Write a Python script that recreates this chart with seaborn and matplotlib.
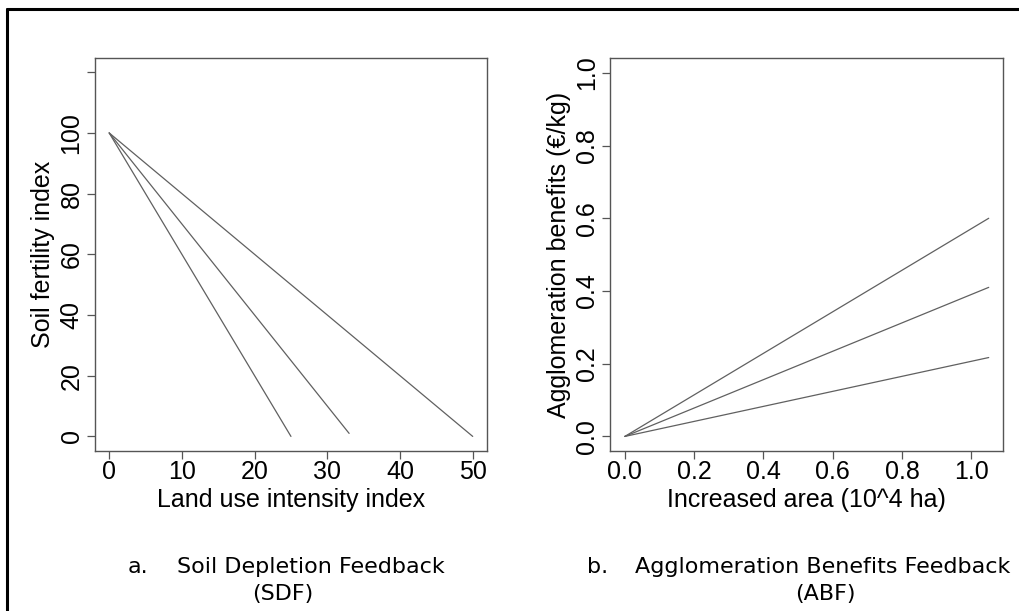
import pandas as pd
import matplotlib.pyplot as plt
import seaborn as sns
from matplotlib.lines import Line2D

# Soil depletion feedback: three lines starting at (0, 100)
sdf_intensity = [[0, 25], [0, 33], [0, 50]]
sdf_fertility = [[100, 0], [100, 1], [100, 0]]

# Agglomeration benefits feedback: three lines from the origin
abf_area = [0, 1.05]
abf_benefit = [[0, 0.60], [0, 0.41], [0, 0.217]]

sdf_yticks = [0, 20, 40, 60, 80, 100, 120]
sdf_yticklabels = ["0", "20", "40", "60", "80", "100", ""]
sdf_xticks = [0, 10, 20, 30, 40, 50]
abf_ticks = [0.0, 0.2, 0.4, 0.6, 0.8, 1.0]


def long_frame(xs, ys, xname, yname):
    rows = []
    for i, (x, y) in enumerate(zip(xs, ys)):
        for a, b in zip(x, y):
            rows.append({xname: a, yname: b, "series": i})
    return pd.DataFrame(rows)


sdf_df = long_frame(sdf_intensity, sdf_fertility, "x", "y")
abf_df = long_frame([abf_area] * 3, abf_benefit, "x", "y")

sns.set_theme(style="white")
plt.rcParams['font.family'] = ['Liberation Sans', 'DejaVu Sans']
plt.rcParams['text.color'] = 'black'
plt.rcParams['axes.labelcolor'] = 'black'

fig = plt.figure(figsize=(10.2, 6.11), dpi=100)
ax1 = fig.add_axes([0.0928, 0.2619, 0.3849, 0.6437])
ax2 = fig.add_axes([0.5983, 0.2619, 0.3853, 0.6427])

line_col = "#606060"
axis_col = "#555555"

sns.lineplot(data=sdf_df, x="x", y="y", hue="series", units="series", estimator=None,
             palette=[line_col] * 3, legend=False, linewidth=0.9, ax=ax1)
sns.lineplot(data=abf_df, x="x", y="y", hue="series", units="series", estimator=None,
             palette=[line_col] * 3, legend=False, linewidth=0.9, ax=ax2)

ax1.set_xlim(-2, 52)
ax1.set_ylim(-4.8, 124.8)
ax1.set_xticks(sdf_xticks)
ax1.set_yticks(sdf_yticks)
ax1.set_yticklabels(sdf_yticklabels)
ax1.set_xlabel("Land use intensity index", fontsize=18, labelpad=3, color="black")
ax1.set_ylabel("Soil fertility index", fontsize=18, labelpad=3, color="black")

ax2.set_xlim(-0.042, 1.092)
ax2.set_ylim(-0.04, 1.04)
ax2.set_xticks(abf_ticks)
ax2.set_xticklabels([f"{t:.1f}" for t in abf_ticks])
ax2.set_yticks(abf_ticks)
ax2.set_yticklabels([f"{t:.1f}" for t in abf_ticks])
ax2.set_xlabel("Increased area (10^4 ha)", fontsize=18, labelpad=3, color="black")
ax2.set_ylabel("Agglomeration benefits (€/kg)", fontsize=18, labelpad=3, color="black")

for ax in (ax1, ax2):
    for s in ax.spines.values():
        s.set_color(axis_col)
        s.set_linewidth(1.0)
    ax.tick_params(axis="both", which="major", direction="out", length=5.5, width=0.9,
                   color=axis_col, labelsize=18, labelcolor="black",
                   bottom=True, left=True)
    ax.tick_params(axis="x", pad=1)
    ax.tick_params(axis="y", pad=2.5)
    plt.setp(ax.get_yticklabels(), rotation=90, va="center", ha="right")
    ax.grid(False)

# captions
cap = dict(fontsize=16, family="DejaVu Sans", va="baseline", color="black")
fig.text(128 / 1020, 1 - 573 / 611, "a.", ha="left", **cap)
fig.text(177 / 1020, 1 - 573 / 611, "Soil Depletion Feedback", ha="left", **cap)
fig.text(283 / 1020, 1 - 600 / 611, "(SDF)", ha="center", **cap)
fig.text(587 / 1020, 1 - 573 / 611, "b.", ha="left", **cap)
fig.text(635 / 1020, 1 - 573 / 611, "Agglomeration Benefits Feedback", ha="left", **cap)
fig.text(825 / 1020, 1 - 600 / 611, "(ABF)", ha="center", **cap)

# outer frame (left and top edges visible)
fig.add_artist(Line2D([7 / 1020, 7 / 1020], [0, 1 - 8.5 / 611], transform=fig.transFigure,
                      color="black", linewidth=2.2))
fig.add_artist(Line2D([7 / 1020, 1], [1 - 8.5 / 611, 1 - 8.5 / 611], transform=fig.transFigure,
                      color="black", linewidth=2.2))

fig.savefig("out.png", dpi=100)
